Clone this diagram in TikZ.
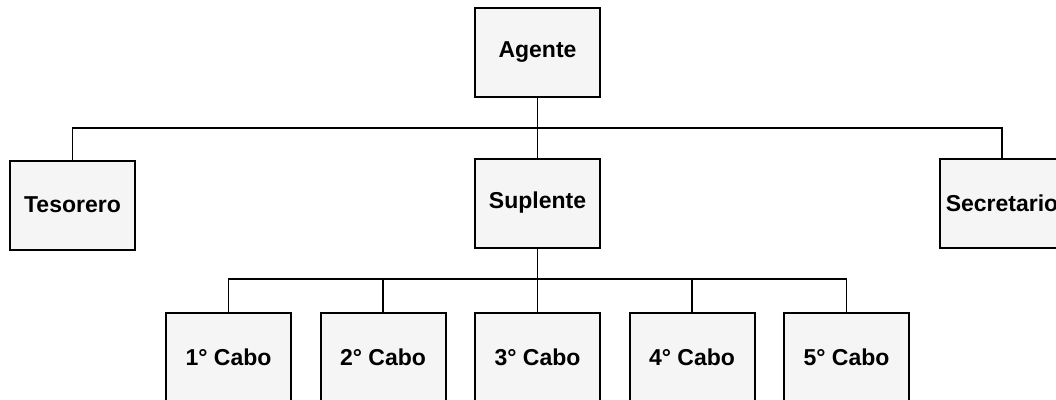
\documentclass[tikz,border=0pt]{standalone}
\usepackage{fontspec}
\setmainfont{Liberation Sans}
\usepackage{tikz}
\usetikzlibrary{positioning}

\begin{document}
\begin{tikzpicture}[x=1pt, y=-1pt, node distance=154.5pt]
\tikzstyle{block} = [rectangle, draw, line width=2pt, fill=black!4, minimum width=125pt, minimum height=89pt, inner sep=0pt, font=\bfseries\fontsize{23}{26}\selectfont]
\tikzstyle{line} = [draw, line width=1.6pt]

\useasboundingbox (0,0) rectangle (1056,399);

\node [block] (agente) at (537.5,52) {Agente};
\node [block] (tesorero) at (72.5,205) {Tesorero};
\node [block] (suplente) at (537.5,203) {Suplente};
\node [block] (secretario) at (1002,203) {Secretario};
\node [block] (cabo3) at (537.5,357) {3° Cabo};
\node [block, left of=cabo3] (cabo2) {2° Cabo};
\node [block, left of=cabo2] (cabo1) {1° Cabo};
\node [block, right of=cabo3] (cabo4) {4° Cabo};
\node [block, right of=cabo4] (cabo5) {5° Cabo};

\coordinate (bar1) at (537.5,128);
\coordinate (bar2) at (537.5,279);

\path [line] (agente.south) -- (bar1);
\path [line] (bar1) -| (tesorero.north);
\path [line] (bar1) -| (secretario.north);
\path [line] (bar1) -- (suplente.north);
\path [line] (suplente.south) -- (bar2);
\foreach \n in {1,...,5}
  \path [line] (bar2) -| (cabo\n.north);
\end{tikzpicture}
\end{document}
